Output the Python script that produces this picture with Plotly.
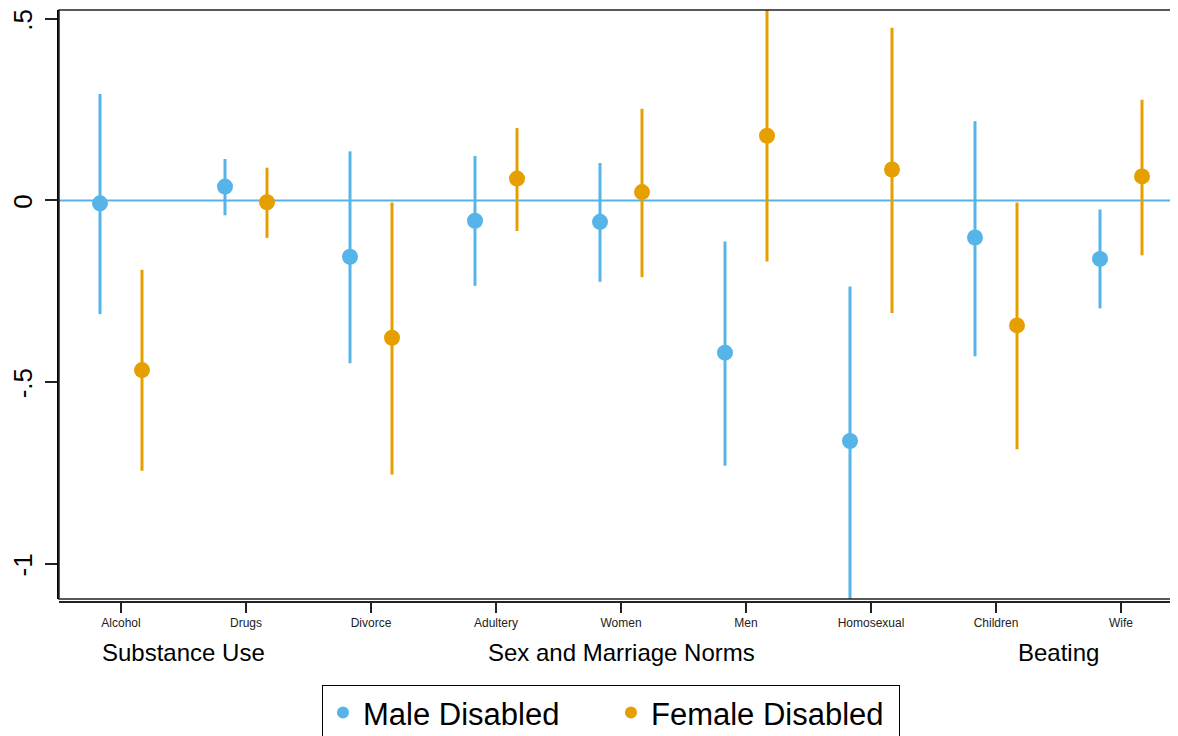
import plotly.graph_objects as go

categories = ["Alcohol", "Drugs", "Divorce", "Adultery", "Women", "Men",
              "Homosexual", "Children", "Wife"]
groups = ["Substance Use", "Sex and Marriage Norms", "Beating"]
group_pos = [1.5, 5, 8.5]

male_est = [-0.008, 0.038, -0.155, -0.056, -0.059, -0.419, -0.662, -0.102, -0.161]
male_lo = [-0.313, -0.041, -0.448, -0.235, -0.224, -0.730, -1.15, -0.429, -0.297]
male_hi = [0.293, 0.114, 0.135, 0.122, 0.103, -0.113, -0.237, 0.218, -0.025]

female_est = [-0.467, -0.005, -0.378, 0.060, 0.023, 0.178, 0.085, -0.344, 0.066]
female_lo = [-0.744, -0.103, -0.754, -0.084, -0.211, -0.168, -0.310, -0.685, -0.151]
female_hi = [-0.191, 0.090, -0.006, 0.199, 0.252, 0.56, 0.475, -0.006, 0.277]

ytick_vals = [-1, -0.5, 0, 0.5]
ytick_text = ["-1", "-.5", "0", ".5"]

BLUE = "#56B4E9"
ORANGE = "#E69F00"
OFF = 0.168
FONT = "Liberation Sans, Arial, Helvetica, sans-serif"

fig = go.Figure()

def add_series(est, lo, hi, shift, color, name):
    xs = [i + 1 + shift for i in range(len(est))]
    lx, ly = [], []
    for x, a, b in zip(xs, lo, hi):
        lx += [x, x, None]
        ly += [a, b, None]
    fig.add_trace(go.Scatter(x=lx, y=ly, mode="lines",
                             line=dict(color=color, width=3),
                             showlegend=False, hoverinfo="skip"))
    fig.add_trace(go.Scatter(x=xs, y=est, mode="markers",
                             marker=dict(color=color, size=16, line=dict(width=0)),
                             name=name, showlegend=True))

add_series(male_est, male_lo, male_hi, -OFF, BLUE, "Male Disabled")
add_series(female_est, female_lo, female_hi, OFF, ORANGE, "Female Disabled")

# zero reference line
fig.add_shape(type="line", xref="x domain", x0=0, x1=1, yref="y", y0=0, y1=0,
              line=dict(color=BLUE, width=2), layer="below")
# plot region frame
fig.add_shape(type="rect", xref="x domain", yref="y domain", x0=0, x1=1, y0=0, y1=1,
              line=dict(color="#222222", width=1.5), layer="above")

for g, p in zip(groups, group_pos):
    fig.add_annotation(x=p, y=-0.086, xref="x", yref="paper", text=g,
                       showarrow=False, font=dict(family=FONT, size=24, color="black"),
                       xanchor="center", yanchor="middle")

# the page body has an 8px margin; the figure is sized to fit the window exactly
fig.update_layout(
    width=1170, height=728,
    margin=dict(l=51, r=0, t=2, b=134, autoexpand=False),
    plot_bgcolor="white", paper_bgcolor="white",
    font=dict(family=FONT, color="black"),
    showlegend=True,
    legend=dict(orientation="h", x=0.235, y=-0.140, xanchor="left", yanchor="top",
                xref="paper", yref="paper",
                bordercolor="black", borderwidth=1,
                font=dict(family=FONT, size=31, color="black"),
                entrywidth=243,
                itemsizing="constant"),
    xaxis=dict(range=[0.504, 9.456], tickmode="array",
               tickvals=list(range(1, len(categories) + 1)), ticktext=categories,
               showgrid=False, zeroline=False, showline=True, linecolor="#222222",
               linewidth=2, ticks="outside", ticklen=10, tickwidth=2, tickcolor="#222222",
               tickfont=dict(family=FONT, size=12, color="#222222"),
               anchor="free", position=0, automargin=False),
    yaxis=dict(range=[-1.097, 0.524], domain=[0.005, 1], tickmode="array",
               tickvals=ytick_vals, ticktext=ytick_text, tickangle=-90,
               showgrid=False, zeroline=False, showline=True, linecolor="black",
               linewidth=2, ticks="outside", ticklen=12, tickwidth=2, tickcolor="#222222",
               tickfont=dict(family=FONT, size=26, color="black"),
               ticklabelstandoff=3, ticklabelshift=5, ticklabeloverflow="allow",
               automargin=False),
)

fig.write_html("out.html")
